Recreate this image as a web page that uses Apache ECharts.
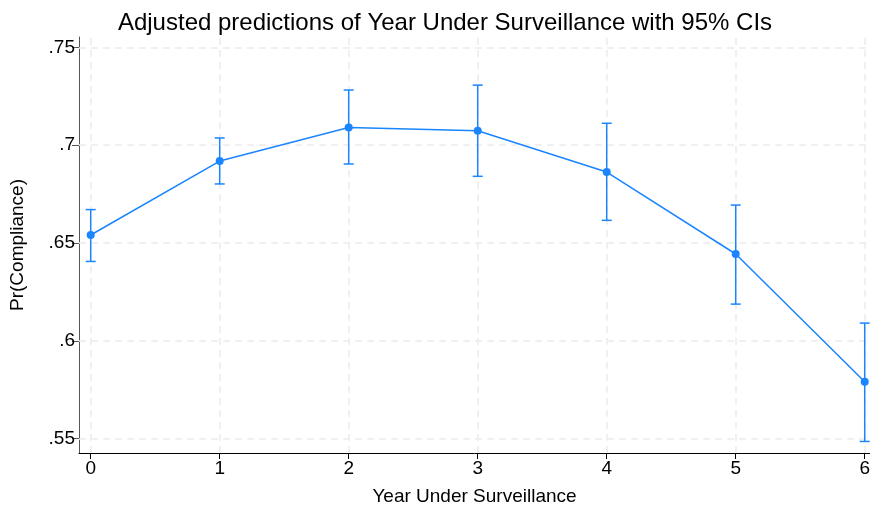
<!DOCTYPE html>
<html>
<head>
<meta charset="utf-8">
<script src="https://cdn.jsdelivr.net/npm/echarts@6/dist/echarts.min.js"></script>
<style>
  html, body { margin: 0; padding: 0; background: #fff; }
  #chart { width: 870px; height: 512px; }
</style>
</head>
<body>
<div id="chart"></div>
<script>
// Year under surveillance (x) and predicted compliance with 95% CI bounds
const years = [0, 1, 2, 3, 4, 5, 6];
const predicted = [0.6541, 0.6919, 0.7090, 0.7074, 0.6863, 0.6444, 0.5791];
const ciLower = [0.6406, 0.6802, 0.6904, 0.6841, 0.6616, 0.6188, 0.5486];
const ciUpper = [0.6671, 0.7037, 0.7282, 0.7307, 0.7112, 0.6694, 0.6091];
const yTicks = [0.55, 0.6, 0.65, 0.7, 0.75];
const xTicks = [0, 1, 2, 3, 4, 5, 6];

const blue = '#1a85ff';
const gridColor = '#ebebeb';
const font = '"Liberation Sans", Arial, Helvetica, sans-serif';

const fmtY = v => String(Number(v.toFixed(2))).replace(/^0\./, '.');

const chart = echarts.init(document.getElementById('chart'), null, { renderer: 'canvas' });

chart.setOption({
  backgroundColor: '#ffffff',
  animation: false,
  title: {
    text: 'Adjusted predictions of Year Under Surveillance with 95% CIs',
    left: 440,
    textAlign: 'center',
    top: 6,
    textStyle: { fontFamily: font, fontSize: 24, fontWeight: 'normal', color: '#000' }
  },
  grid: { left: 79, right: 0, top: 37, bottom: 59, containLabel: false, outerBoundsMode: 'none' },
  xAxis: {
    type: 'value',
    min: -0.0907,
    max: 6.041,
    name: 'Year Under Surveillance',
    nameLocation: 'middle',
    nameGap: 34,
    nameTextStyle: { fontFamily: font, fontSize: 19, color: '#000' },
    axisLine: { show: true, onZero: false, lineStyle: { color: '#000', width: 1 } },
    axisTick: { show: true, length: 6, customValues: xTicks, lineStyle: { color: '#000' } },
    axisLabel: { customValues: xTicks, margin: 6, fontFamily: font, fontSize: 19, color: '#000' },
    splitLine: { show: false }
  },
  yAxis: {
    type: 'value',
    min: 0.5427,
    max: 0.7553,
    name: 'Pr(Compliance)',
    nameLocation: 'middle',
    nameRotate: 90,
    nameGap: 52,
    nameTextStyle: { fontFamily: font, fontSize: 19, color: '#000' },
    axisLine: { show: true, onZero: false, lineStyle: { color: '#555', width: 1 } },
    axisTick: { show: true, length: 7, customValues: yTicks, lineStyle: { color: '#555' } },
    axisLabel: { customValues: yTicks, margin: 4, fontFamily: font, fontSize: 19, color: '#000', formatter: fmtY },
    splitLine: { show: false }
  },
  series: [
    {
      // dashed reference grid, kept beneath the data
      type: 'line',
      data: [],
      silent: true,
      z: 1,
      markLine: {
        silent: true,
        z: 1,
        symbol: 'none',
        label: { show: false },
        lineStyle: { color: gridColor, type: [7, 5], width: 1.5 },
        data: yTicks.map(v => ({ yAxis: v })).concat(xTicks.map(v => ({ xAxis: v })))
      }
    },
    {
      // confidence intervals with caps
      type: 'custom',
      silent: true,
      z: 6,
      data: years.map((x, i) => [x, ciLower[i], ciUpper[i]]),
      renderItem: (params, api) => {
        const lo = api.coord([api.value(0), api.value(1)]);
        const hi = api.coord([api.value(0), api.value(2)]);
        const cap = 5;
        const style = { stroke: blue, lineWidth: 1.5, fill: null };
        return {
          type: 'group',
          children: [
            { type: 'line', shape: { x1: lo[0], y1: lo[1], x2: hi[0], y2: hi[1] }, style },
            { type: 'line', shape: { x1: lo[0] - cap, y1: lo[1], x2: lo[0] + cap, y2: lo[1] }, style },
            { type: 'line', shape: { x1: hi[0] - cap, y1: hi[1], x2: hi[0] + cap, y2: hi[1] }, style }
          ]
        };
      }
    },
    {
      type: 'line',
      z: 7,
      data: years.map((x, i) => [x, predicted[i]]),
      symbol: 'circle',
      symbolSize: 8,
      itemStyle: { color: blue },
      lineStyle: { color: blue, width: 1.5 }
    }
  ]
});
</script>
</body>
</html>
